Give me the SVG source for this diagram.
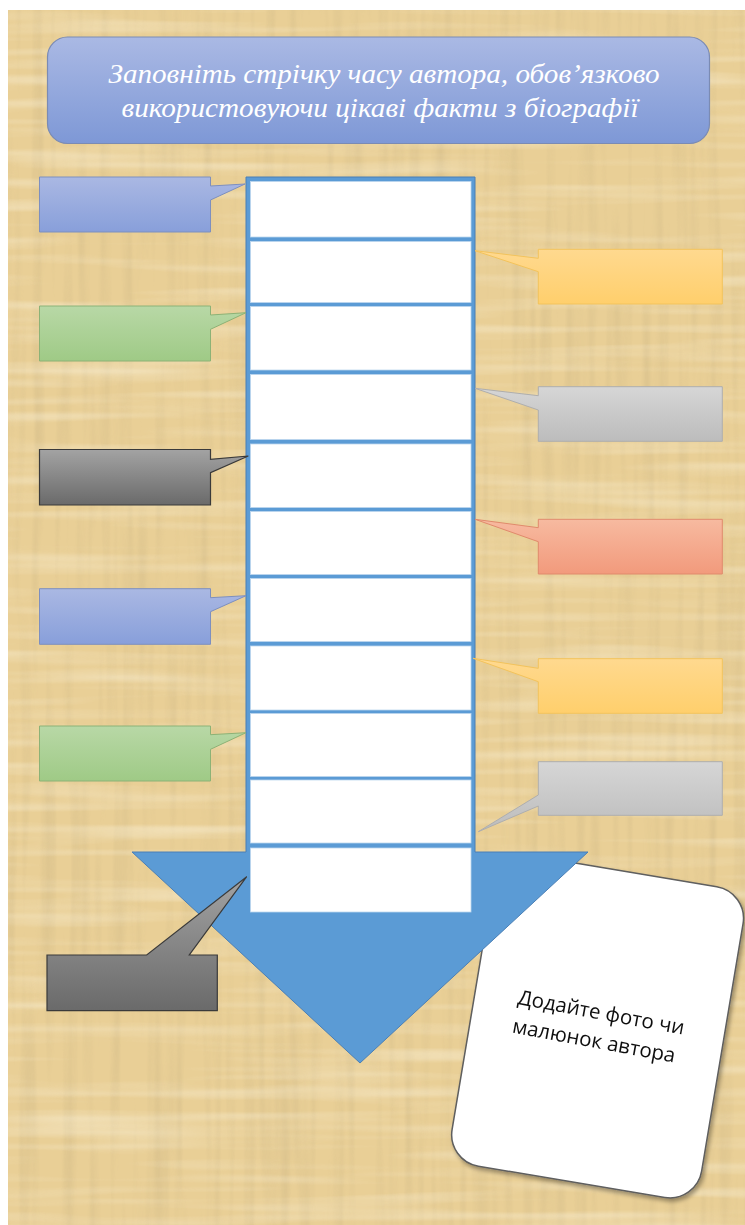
<svg xmlns="http://www.w3.org/2000/svg" width="745" height="1225" viewBox="0 0 745 1225">
<defs>
<style>
.ttl{font-family:"Liberation Serif","DejaVu Serif",serif;font-style:italic;font-size:28px;fill:#ffffff;text-anchor:middle}
.card-t{font-family:"Open Sans","Noto Sans","Liberation Sans",sans-serif;font-size:20.5px;fill:#111111;text-anchor:middle}
.cell{fill:#ffffff;stroke:#bcd6ee;stroke-width:0.8}
.cb{fill:url(#gBlue);stroke:#7d8fbf;stroke-width:1}
.cg{fill:url(#gGreen);stroke:#8cb276;stroke-width:1}
.cd{fill:url(#gDark);stroke:#3a3a3a;stroke-width:1.2}
.cy{fill:url(#gYellow);stroke:#f3c35c;stroke-width:1}
.cl{fill:url(#gLight);stroke:#aeaeae;stroke-width:1}
.cs{fill:url(#gSalmon);stroke:#e08a6c;stroke-width:1}
</style>
<linearGradient id="gTitle" x1="0" y1="0" x2="0" y2="1"><stop offset="0" stop-color="#aab9e4"/><stop offset="1" stop-color="#7e98d6"/></linearGradient>
<linearGradient id="gBlue" x1="0" y1="0" x2="0" y2="1"><stop offset="0" stop-color="#aab8e3"/><stop offset="1" stop-color="#889fda"/></linearGradient>
<linearGradient id="gGreen" x1="0" y1="0" x2="0" y2="1"><stop offset="0" stop-color="#b8d8a6"/><stop offset="1" stop-color="#9fca86"/></linearGradient>
<linearGradient id="gDark" x1="0" y1="0" x2="0" y2="1"><stop offset="0" stop-color="#a3a3a3"/><stop offset="1" stop-color="#6a6a6a"/></linearGradient>
<linearGradient id="gYellow" x1="0" y1="0" x2="0" y2="1"><stop offset="0" stop-color="#ffd98f"/><stop offset="1" stop-color="#ffcf6c"/></linearGradient>
<linearGradient id="gLight" x1="0" y1="0" x2="0" y2="1"><stop offset="0" stop-color="#d6d6d6"/><stop offset="1" stop-color="#bcbcbc"/></linearGradient>
<linearGradient id="gSalmon" x1="0" y1="0" x2="0" y2="1"><stop offset="0" stop-color="#f7baa0"/><stop offset="1" stop-color="#f29a7c"/></linearGradient>
<filter id="texV" x="0" y="0" width="100%" height="100%">
<feTurbulence type="fractalNoise" baseFrequency="0.09 0.004" numOctaves="2" seed="4"/>
<feColorMatrix type="matrix" values="0 0 0 0 0.62  0 0 0 0 0.48  0 0 0 0 0.24  1.4 0 0 0 -0.62"/>
</filter>
<filter id="texH" x="0" y="0" width="100%" height="100%">
<feTurbulence type="fractalNoise" baseFrequency="0.004 0.08" numOctaves="2" seed="9"/>
<feColorMatrix type="matrix" values="0 0 0 0 1  0 0 0 0 0.97  0 0 0 0 0.85  0 1.4 0 0 -0.62"/>
</filter>
<filter id="shadow" x="-10%" y="-10%" width="130%" height="130%">
<feGaussianBlur in="SourceAlpha" stdDeviation="2"/>
<feOffset dx="2" dy="3" result="o"/>
<feComponentTransfer><feFuncA type="linear" slope="0.35"/></feComponentTransfer>
<feMerge><feMergeNode/><feMergeNode in="SourceGraphic"/></feMerge>
</filter>
</defs>

<rect x="0" y="0" width="745" height="1225" fill="#ffffff"/>
<g id="background">
<rect x="8" y="10" width="737" height="1215" fill="#e9cf96"/>
<rect x="8" y="10" width="737" height="1215" filter="url(#texV)" opacity="0.7"/>
<rect x="8" y="10" width="737" height="1215" filter="url(#texH)" opacity="0.6"/>
</g>

<g id="title">
<rect x="47.5" y="37" width="662" height="106.5" rx="20" fill="url(#gTitle)" stroke="#7b8bb3" stroke-width="1.2"/>
<text class="ttl" x="384" y="83" textLength="551" lengthAdjust="spacingAndGlyphs">Заповніть стрічку часу автора, обов’язково</text>
<text class="ttl" x="380" y="117" textLength="517" lengthAdjust="spacingAndGlyphs">використовуючи цікаві факти з біографії</text>
</g>

<g id="photo-card" filter="url(#shadow)">
<rect x="471.5" y="869" width="253" height="315" rx="32" transform="rotate(9.5 598 1024)" fill="#ffffff" stroke="#5e5e5e" stroke-width="1.5"/>
<g transform="rotate(10.5 597 1030)">
<text class="card-t" x="598" y="1019">Додайте фото чи</text>
<text class="card-t" x="596" y="1048">малюнок автора</text>
</g>
</g>

<g id="timeline-arrow">
<path d="M246,177 H475 V852 H588 L360,1063 L132,852 H246 Z" fill="#5b9bd5" stroke="#4a7fb5" stroke-width="1"/>
</g>

<g id="cells">
<rect id="cell1" class="cell" x="250.5" y="181.5" width="220.5" height="55.5"/>
<rect id="cell2" class="cell" x="250.5" y="241.5" width="220.5" height="61"/>
<rect id="cell3" class="cell" x="250.5" y="306.5" width="220.5" height="63.5"/>
<rect id="cell4" class="cell" x="250.5" y="374.5" width="220.5" height="65"/>
<rect id="cell5" class="cell" x="250.5" y="444" width="220.5" height="63.5"/>
<rect id="cell6" class="cell" x="250.5" y="511.5" width="220.5" height="63"/>
<rect id="cell7" class="cell" x="250.5" y="578.5" width="220.5" height="63"/>
<rect id="cell8" class="cell" x="250.5" y="646" width="220.5" height="64"/>
<rect id="cell9" class="cell" x="250.5" y="713.5" width="220.5" height="63"/>
<rect id="cell10" class="cell" x="250.5" y="780" width="220.5" height="63"/>
<rect id="cell11" class="cell" x="250.5" y="848" width="220.5" height="64"/>
</g>

<g id="callouts-left">
<path id="L1" class="cb" d="M39.5,177 H210.5 V186 L245,184 L210.5,200 V232 H39.5 Z"/>
<path id="L2" class="cg" d="M39.5,306 H210.5 V315 L246,312.7 L210.5,329.3 V361 H39.5 Z"/>
<path id="L3" class="cd" d="M39.5,449.5 H210.5 V459.3 L248.3,456 L210.5,472.7 V505 H39.5 Z"/>
<path id="L4" class="cb" d="M39.5,588.7 H210.5 V597.7 L246,595.7 L210.5,611.7 V644.3 H39.5 Z"/>
<path id="L5" class="cg" d="M39.5,726 H210.5 V734.7 L246,732.7 L210.5,749.3 V781 H39.5 Z"/>
<path id="L6" class="cd" d="M47,955 H146.7 L246.7,876.7 L189.3,955 H217.3 V1010.7 H47 Z"/>
</g>

<g id="callouts-right">
<path id="R1" class="cy" d="M538.3,249.3 H722.3 V304 H538.3 V271.7 L475,250.7 L538.3,258.3 Z"/>
<path id="R2" class="cl" d="M538.3,386.7 H722.3 V441.3 H538.3 V410 L475,388.3 L538.3,395.7 Z"/>
<path id="R3" class="cs" d="M538.3,519.3 H722.3 V574 H538.3 V541.7 L475,519.3 L538.3,527.7 Z"/>
<path id="R4" class="cy" d="M538.3,658.7 H722.3 V713.3 H538.3 V681.7 L473,658.3 L538.3,668.3 Z"/>
<path id="R5" class="cl" d="M538.3,761.7 H722.3 V815.3 H538.3 V806 L478.3,831.7 L538.3,795 Z"/>
</g>
</svg>
